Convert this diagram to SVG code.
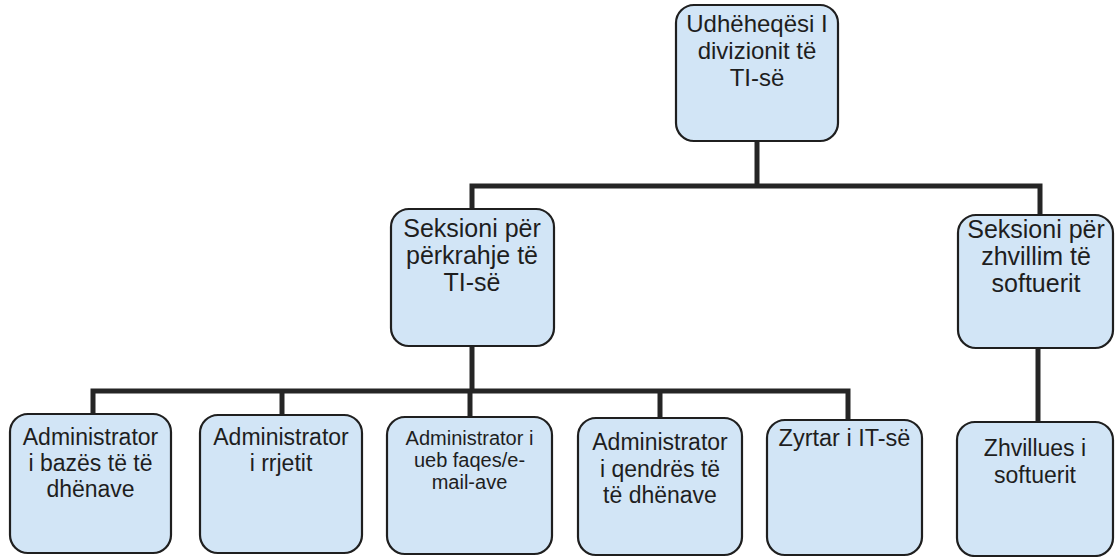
<svg xmlns="http://www.w3.org/2000/svg" width="1116" height="557" viewBox="0 0 1116 557">
<style>
.box{fill:#d2e5f6;stroke:#1f1f1f;stroke-width:2.2}
.t{font-family:"Liberation Sans",Arial,sans-serif;fill:#1e1e1e;text-anchor:middle}
.conn{fill:none;stroke:#252525;stroke-width:5;stroke-linejoin:miter}
</style>
<rect width="1116" height="557" fill="#ffffff"/>
<g id="connectors">
<path class="conn" d="M757 141 V186"/>
<path class="conn" d="M472 209 V186 H1040 V215"/>
<path class="conn" d="M472 346 V391"/>
<path class="conn" d="M93 414 V391 H848 V420"/>
<path class="conn" d="M282 391 V415"/>
<path class="conn" d="M470 391 V417"/>
<path class="conn" d="M660 391 V418"/>
<path class="conn" d="M1038 347 V422"/>
</g>
<g id="n-top">
<rect class="box" x="676" y="5" width="162" height="136" rx="18"/>
<text class="t" font-size="24"><tspan x="757" y="32">Udhëheqësi I</tspan><tspan x="757" y="59">divizionit të</tspan><tspan x="757" y="86">TI-së</tspan></text>
</g>
<g id="n-perkrahje">
<rect class="box" x="391" y="209" width="163" height="137" rx="18"/>
<text class="t" font-size="25"><tspan x="472" y="237">Seksioni për</tspan><tspan x="472" y="264">përkrahje të</tspan><tspan x="472" y="291">TI-së</tspan></text>
</g>
<g id="n-zhvillim">
<rect class="box" x="958" y="215" width="155" height="133" rx="18"/>
<text class="t" font-size="25"><tspan x="1036" y="238">Seksioni për</tspan><tspan x="1036" y="265">zhvillim të</tspan><tspan x="1036" y="292">softuerit</tspan></text>
</g>
<g id="n-baza">
<rect class="box" x="10" y="414" width="161" height="139" rx="18"/>
<text class="t" font-size="23"><tspan x="90.5" y="445">Administrator</tspan><tspan x="90.5" y="471">i bazës të të</tspan><tspan x="90.5" y="497">dhënave</tspan></text>
</g>
<g id="n-rrjeti">
<rect class="box" x="200" y="415" width="162" height="138" rx="18"/>
<text class="t" font-size="23"><tspan x="281" y="445">Administrator</tspan><tspan x="281" y="471">i rrjetit</tspan></text>
</g>
<g id="n-ueb">
<rect class="box" x="387" y="417" width="165" height="137" rx="18"/>
<text class="t" font-size="20"><tspan x="469.5" y="445">Administrator i</tspan><tspan x="469.5" y="467">ueb faqes/e-</tspan><tspan x="469.5" y="489">mail-ave</tspan></text>
</g>
<g id="n-qendra">
<rect class="box" x="578" y="418" width="164" height="137" rx="18"/>
<text class="t" font-size="23"><tspan x="660" y="450">Administrator</tspan><tspan x="660" y="477">i qendrës të</tspan><tspan x="660" y="503">të dhënave</tspan></text>
</g>
<g id="n-zyrtar">
<rect class="box" x="767" y="420" width="155" height="135" rx="18"/>
<text class="t" font-size="23.5"><tspan x="844.5" y="446">Zyrtar i IT-së</tspan></text>
</g>
<g id="n-zhvillues">
<rect class="box" x="957" y="422" width="156" height="134" rx="18"/>
<text class="t" font-size="23"><tspan x="1035" y="456">Zhvillues i</tspan><tspan x="1035" y="483">softuerit</tspan></text>
</g>
</svg>
